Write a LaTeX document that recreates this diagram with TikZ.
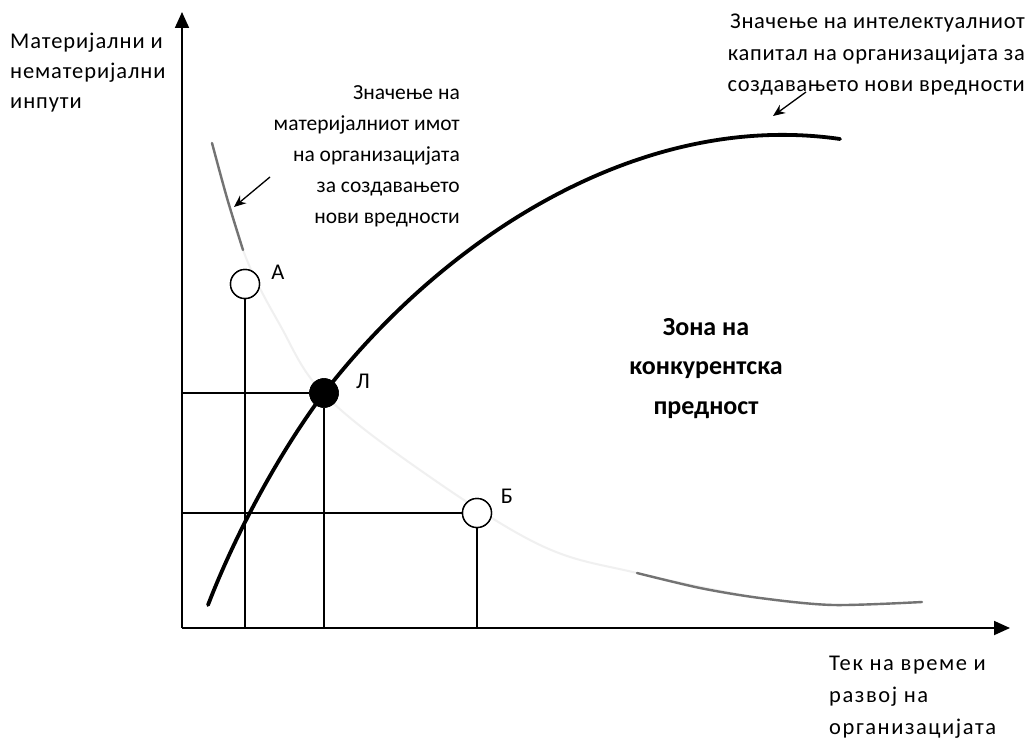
\documentclass[tikz,border=0pt]{standalone}
\usepackage{fontspec}
\setmainfont{Carlito}
\usetikzlibrary{arrows.meta}
\begin{document}
\begin{tikzpicture}[x=1pt,y=-1pt,
  lbl/.style={font=\fontsize{22.5}{31}\selectfont, inner sep=0pt},
  zone/.style={font=\fontsize{26}{39.5}\selectfont\bfseries, inner sep=0pt, align=center},
  axisline/.style={line width=1.8pt, -{Triangle[length=16pt,width=14pt]}},
  guide/.style={line width=1.1pt},
  ptopen/.style={circle, draw, line width=1.4pt, fill=white, minimum size=29pt, inner sep=0pt},
  ptfull/.style={circle, draw, fill=black, minimum size=29pt, inner sep=0pt},
  note/.style={line width=1.3pt, -{Stealth[length=12pt,width=10pt]}},
  maincurve/.style={line width=3.8pt, line cap=round},
  faint/.style={line width=2pt, black!6},
  grey/.style={line width=2.4pt, black!55, line cap=round},
]
\useasboundingbox (0,0) rectangle (1032,743);
\fill[white] (0,0) rectangle (1032,743);

% axes
\coordinate (O) at (182,628);
\coordinate (ytip) at (182,12);
\coordinate (xtip) at (1010,628);

% decreasing (material assets) curve: faint whole, visible segments
\draw[faint] plot[smooth, tension=0.6] coordinates {(212,143) (243,250) (280,325) (324,394) (420,470) (540,545) (637,573) (760,598) (833,605) (922,602)};
\draw[grey] plot[smooth] coordinates {(212,143) (227,198) (243,250)};
\draw[grey] plot[smooth] coordinates {(637,573) (700,588) (760,598) (833,605) (922,602)};

% points
\node[ptopen] (A) at (245,284) {};
\node[ptfull] (L) at (324,393) {};
\node[ptopen] (B) at (477,513) {};

\coordinate (Ax) at (245,628);
\coordinate (Lx) at (324,628);
\coordinate (Bx) at (477,628);
\coordinate (Ly) at (182,393);
\coordinate (By) at (182,513);

% guide lines
\draw[guide] (A) -- (Ax);
\draw[guide] (L) -- (Lx);
\draw[guide] (B) -- (Bx);
\draw[guide] (Ly) -- (L);
\draw[guide] (By) -- (B);

\draw[axisline] (O) -- (ytip);
\draw[axisline] (O) -- (xtip);

% intellectual capital curve
\coordinate (c0) at (208,605);
\coordinate (c1) at (840,139);
\draw[maincurve] (c0) .. controls (238,527) and (284,446) .. (L.center)
  .. controls (444,238) and (640,110) .. (c1);

\node[ptfull] at (L) {};
\node[ptopen] at (A) {};
\node[ptopen] at (B) {};

% labels
\node[lbl] (lA) at (278,272) {А};
\node[lbl] (lL) at (363,381) {Л};
\node[lbl] (lB) at (507,496) {Б};

\node[lbl, align=left, anchor=north west, font=\fontsize{22.5}{30}\selectfont\addfontfeatures{LetterSpace=4}] (ylab) at (10,33) {Материјални и\\нематеријални\\инпути};
\node[lbl, align=left, anchor=north west, font=\fontsize{22.5}{32}\selectfont\addfontfeatures{LetterSpace=7}] (xlab) at (829,656) {Тек на време и\\развој на\\организацијата};
\node[lbl, align=right, anchor=north east, font=\fontsize{21.5}{31}\selectfont] (mat) at (460,85) {Значење на\\материјалниот имот\\на организацијата\\за создавањето\\нови вредности};
\node[lbl, align=right, anchor=north east, font=\fontsize{22.5}{31.5}\selectfont\addfontfeatures{LetterSpace=3}] (ic) at (1025,14) {Значење на интелектуалниот\\капитал на организацијата за\\создавањето нови вредности};
\node[zone, anchor=north] (zone) at (706,318) {Зона на\\конкурентска\\предност};

% annotation arrows
\coordinate (m1) at (270,177);
\coordinate (m2) at (234,207);
\draw[note] (m1) -- (m2);
\coordinate (i1) at (806,92);
\coordinate (i2) at (773,116);
\draw[note] (i1) -- (i2);
\end{tikzpicture}
\end{document}
